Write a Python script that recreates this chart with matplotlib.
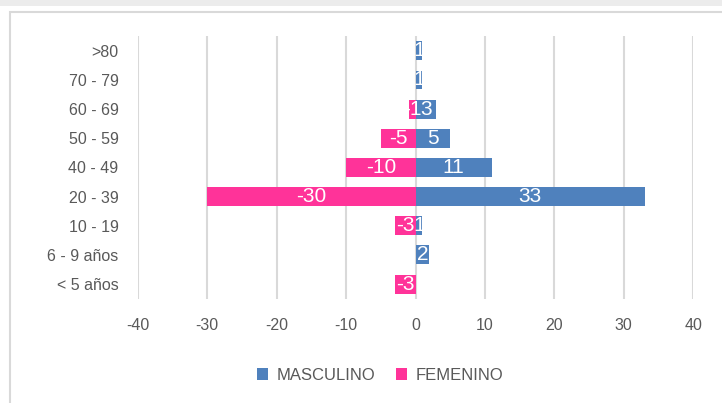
import matplotlib.pyplot as plt
from matplotlib.patches import Rectangle

# datos (de abajo hacia arriba)
grupos = ["< 5 años", "6 - 9 años", "10 - 19", "20 - 39", "40 - 49",
          "50 - 59", "60 - 69", "70 - 79", ">80"]
masculino = [0, 2, 1, 33, 11, 5, 3, 1, 1]
femenino = [-3, 0, -3, -30, -10, -5, -1, 0, 0]
ticks_x = [-40, -30, -20, -10, 0, 10, 20, 30, 40]

azul = "#4f81bd"
rosa = "#ff3399"
gris = "#595959"

plt.rcParams['font.family'] = ['Liberation Sans', 'DejaVu Sans']

fig = plt.figure(figsize=(7.22, 4.03), dpi=100)
ax = fig.add_axes([0.191, 0.259, 0.769, 0.651])

# marco de la imagen
fig.patches.append(Rectangle((0, 0.985), 1, 0.015, transform=fig.transFigure,
                             facecolor="#ececec", edgecolor="none"))
fig.patches.append(Rectangle((10 / 722, -0.1), 1.1, 1 - 12 / 403 + 0.1,
                             transform=fig.transFigure, facecolor="none",
                             edgecolor="#d9d9d9", linewidth=1.5))

y = list(range(len(grupos)))
bm = ax.barh(y, masculino, height=0.65, color=azul, label="MASCULINO", zorder=3)
bf = ax.barh(y, femenino, height=0.65, color=rosa, label="FEMENINO", zorder=3)

# etiquetas blancas dentro de las barras (recortadas a la barra)
for barras, vals in ((bf, femenino), (bm, masculino)):
    for b, v in zip(barras, vals):
        if v == 0:
            continue
        t = ax.text(v / 2, b.get_y() + b.get_height() / 2, str(v),
                    color="white", fontsize=15, ha="center", va="center",
                    zorder=4)
        t.set_clip_path(b)

ax.set_xlim(-40, 40)
ax.set_ylim(-0.5, len(grupos) - 0.5)
ax.set_xticks(ticks_x)
ax.set_xticklabels([str(t) for t in ticks_x])
ax.set_yticks(y)
ax.set_yticklabels(grupos)
ax.tick_params(length=0, colors=gris, labelsize=11.5)
ax.tick_params(axis="x", pad=14)
ax.tick_params(axis="y", pad=14)
ax.grid(axis="x", color="#d9d9d9", linewidth=1.5, zorder=0)
for s in ax.spines.values():
    s.set_visible(False)

fig.legend(handles=[bm, bf], labels=["MASCULINO", "FEMENINO"], loc="center",
           bbox_to_anchor=(380 / 722, 1 - 375 / 403), ncol=2, frameon=False,
           fontsize=12, labelcolor=gris, handlelength=0.7, handleheight=0.7,
           columnspacing=1.2, handletextpad=0.5)

fig.savefig("out.png", dpi=100)
